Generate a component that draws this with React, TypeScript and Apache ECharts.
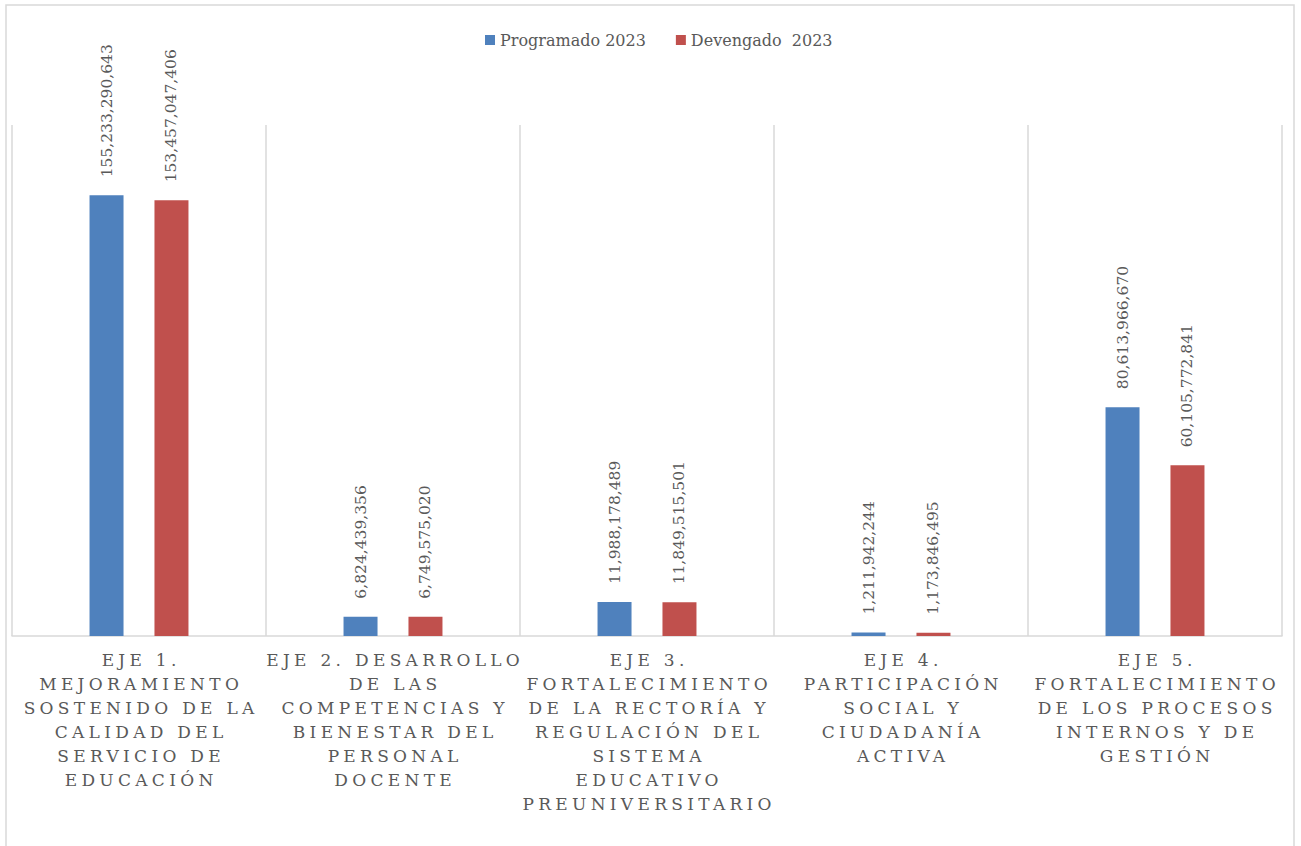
import React, { useEffect, useRef } from "react";
import * as echarts from "echarts";

const categories: string[] = [
  "EJE 1.\nMEJORAMIENTO\nSOSTENIDO DE LA\nCALIDAD DEL\nSERVICIO DE\nEDUCACIÓN",
  "EJE 2. DESARROLLO\nDE LAS\nCOMPETENCIAS Y\nBIENESTAR DEL\nPERSONAL\nDOCENTE",
  "EJE 3.\nFORTALECIMIENTO\nDE LA RECTORÍA Y\nREGULACIÓN DEL\nSISTEMA\nEDUCATIVO\nPREUNIVERSITARIO",
  "EJE 4.\nPARTICIPACIÓN\nSOCIAL Y\nCIUDADANÍA\nACTIVA",
  "EJE 5.\nFORTALECIMIENTO\nDE LOS PROCESOS\nINTERNOS Y DE\nGESTIÓN",
];

const programado2023: number[] = [155233290643, 6824439356, 11988178489, 1211942244, 80613966670];
const devengado2023: number[] = [153457047406, 6749575020, 11849515501, 1173846495, 60105772841];

const seriesNames: string[] = ["Programado 2023", "Devengado  2023"];

const FONT = "DejaVu Serif";
const TEXT = "#595959";
const GRID = "#d9d9d9";

export default function App() {
  const ref = useRef<HTMLDivElement>(null);

  useEffect(() => {
    if (!ref.current) return;
    const chart = echarts.init(ref.current, undefined, { renderer: "svg" });
    const fmt = (v: number) => v.toLocaleString("en-US");
    const label = {
      show: true,
      position: "top",
      rotate: 90,
      align: "left",
      verticalAlign: "middle",
      distance: 18,
      color: TEXT,
      fontFamily: FONT,
      fontSize: 15.5,
      formatter: (p: any) => fmt(p.value),
    };
    chart.setOption({
      animation: false,
      backgroundColor: "#ffffff",
      textStyle: { fontFamily: FONT },
      graphic: [
        {
          type: "rect",
          silent: true,
          z: -10,
          shape: { x: 6, y: 5, width: 1288, height: 900 },
          style: { fill: "none", stroke: GRID, lineWidth: 1.5 },
        },
      ],
      legend: {
        top: 27,
        left: 480,
        itemWidth: 10,
        itemHeight: 10,
        itemGap: 30,
        icon: "rect",
        textStyle: { color: TEXT, fontFamily: FONT, fontSize: 16 },
        data: seriesNames,
      },
      grid: { left: 12, right: 19, top: 125, bottom: 210, containLabel: false },
      xAxis: {
        type: "category",
        data: categories,
        axisLine: { show: true, lineStyle: { color: GRID, width: 1.5 } },
        axisTick: { show: false },
        splitLine: { show: true, lineStyle: { color: GRID, width: 1.5 } },
        axisLabel: {
          interval: 0,
          margin: 12,
          color: TEXT,
          fontFamily: FONT,
          fontSize: 17,
          lineHeight: 24,
          align: "center",
        },
      },
      yAxis: {
        type: "value",
        min: 0,
        max: 180000000000,
        show: false,
        splitLine: { show: false },
      },
      series: [
        {
          name: seriesNames[0],
          type: "bar",
          data: programado2023,
          barWidth: 34,
          barGap: "91%",
          itemStyle: { color: "#4f81bd" },
          label,
        },
        {
          name: seriesNames[1],
          type: "bar",
          data: devengado2023,
          barWidth: 34,
          barGap: "91%",
          itemStyle: { color: "#c0504d" },
          label,
        },
      ],
    });

    const lines = new Set<string>();
    categories.forEach((c) => c.split("\n").forEach((l) => lines.add(l)));
    const applySpacing = () => {
      if (!ref.current) return;
      ref.current.querySelectorAll("text").forEach((t) => {
        const s = (t.textContent || "").trim();
        if (lines.has(s)) {
          t.setAttribute("letter-spacing", "4.3");
          t.setAttribute("dx", "2.15");
        }
      });
    };
    applySpacing();
    chart.on("finished", applySpacing);

    return () => {
      chart.dispose();
    };
  }, []);

  return (
    <div
      ref={ref}
      style={{ position: "absolute", left: 0, top: 0, width: 1301, height: 846 }}
    />
  );
}
